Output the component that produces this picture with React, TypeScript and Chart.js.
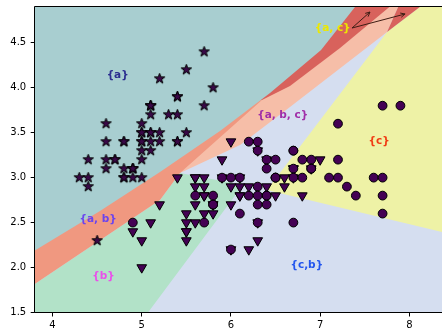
import React, { useEffect, useRef } from 'react';
import { Chart, registerables } from 'chart.js';
Chart.register(...registerables);

// axis ranges and ticks
const X_MIN = 3.8;
const X_MAX = 8.366;
const Y_MIN = 1.5;
const Y_MAX = 4.9;
const xTicks = [4, 5, 6, 7, 8];
const yTicks = [1.5, 2.0, 2.5, 3.0, 3.5, 4.0, 4.5];

// iris sepal length / width
const setosaX = [5.1,4.9,4.7,4.6,5.0,5.4,4.6,5.0,4.4,4.9,5.4,4.8,4.8,4.3,5.8,5.7,5.4,5.1,5.7,5.1,5.4,5.1,4.6,5.1,4.8,5.0,5.0,5.2,5.2,4.7,4.8,5.4,5.2,5.5,4.9,5.0,5.5,4.9,4.4,5.1,5.0,4.5,4.4,5.0,5.1,4.8,5.1,4.6,5.3,5.0];
const setosaY = [3.5,3.0,3.2,3.1,3.6,3.9,3.4,3.4,2.9,3.1,3.7,3.4,3.0,3.0,4.0,4.4,3.9,3.5,3.8,3.8,3.4,3.7,3.6,3.3,3.4,3.0,3.4,3.5,3.4,3.2,3.1,3.4,4.1,4.2,3.1,3.2,3.5,3.1,3.0,3.4,3.5,2.3,3.2,3.5,3.8,3.0,3.8,3.2,3.7,3.3];
const versicolorX = [7.0,6.4,6.9,5.5,6.5,5.7,6.3,4.9,6.6,5.2,5.0,5.9,6.0,6.1,5.6,6.7,5.6,5.8,6.2,5.6,5.9,6.1,6.3,6.1,6.4,6.6,6.8,6.7,6.0,5.7,5.5,5.5,5.8,6.0,5.4,6.0,6.7,6.3,5.6,5.5,5.5,6.1,5.8,5.0,5.6,5.7,5.7,6.2,5.1,5.7];
const versicolorY = [3.2,3.2,3.1,2.3,2.8,2.8,3.3,2.4,2.9,2.7,2.0,3.0,2.2,2.9,2.9,3.1,3.0,2.7,2.2,2.5,3.2,2.8,2.5,2.8,2.9,3.0,2.8,3.0,2.9,2.6,2.4,2.4,2.7,2.7,3.0,3.4,3.1,2.3,3.0,2.5,2.6,3.0,2.6,2.3,2.7,3.0,2.9,2.9,2.5,2.8];
const virginicaX = [6.3,5.8,7.1,6.3,6.5,7.6,4.9,7.3,6.7,7.2,6.5,6.4,6.8,5.7,5.8,6.4,6.5,7.7,7.7,6.0,6.9,5.6,7.7,6.3,6.7,7.2,6.2,6.1,6.4,7.2,7.4,7.9,6.4,6.3,6.1,7.7,6.3,6.4,6.0,6.9,6.7,6.9,5.8,6.8,6.7,6.7,6.3,6.5,6.2,5.9];
const virginicaY = [3.3,2.7,3.0,2.9,3.0,3.0,2.5,2.9,2.5,3.6,3.2,2.7,3.0,2.5,2.8,3.2,3.0,3.8,2.6,2.2,3.2,2.8,2.8,2.7,3.3,3.2,2.8,3.0,2.8,3.0,2.8,3.8,2.8,2.8,2.6,3.0,3.4,3.1,3.0,3.1,3.1,3.1,2.7,3.2,3.3,3.0,2.5,3.0,3.4,3.0];

// prediction-set regions (polygon vertices in data units)
const regionCB = [[3.7,1.4],[8.5,1.4],[8.5,5.0],[3.7,5.0]];
const regionC = [[6.404,2.862],[7.75,4.62],[8.252,5.0],[8.5,5.0],[8.5,2.363]];
const regionB = [[3.7,1.4],[4.995,1.4],[6.135,2.918],[5.429,3.051],[5.205,2.751],[3.7,1.75]];
const regionABC = [[5.0,3.5],[5.429,3.051],[6.102,3.363],[6.662,3.785],[7.75,4.62],[7.92,5.0],[5.0,5.0]];
const regionAB = [[3.7,1.75],[5.205,2.751],[5.429,3.051],[6.348,3.863],[6.35,5.0],[3.7,5.0]];
const regionAC = [[6.2,3.86],[6.348,3.863],[6.662,4.019],[7.223,4.442],[7.9,5.0],[6.2,5.0]];
const regionAC2 = [[7.75,4.62],[7.92,5.0],[8.252,5.0]];
const regionA = [[3.7,2.13],[4.532,2.629],[5.205,3.062],[5.877,3.518],[6.438,3.941],[7.01,4.419],[7.472,5.0],[3.7,5.0]];

// text labels
const labelTexts = ['{a}', '{a, b}', '{b}', '{c,b}', '{c}', '{a, b, c}', '{a, c}'];
const labelX = [4.73, 4.51, 4.57, 6.85, 7.66, 6.58, 7.14];
const labelY = [4.14, 2.54, 1.9, 2.02, 3.41, 3.69, 4.665];
const arrowTail = [7.357, 4.664];
const arrowHeadsX = [7.559, 7.952];
const arrowHeadsY = [4.842, 4.82];

const labelColors = ['#2b2e8f', '#6b44ee', '#ea50ea', '#2255ee', '#f03c14', '#a02ea8', '#ece800'];

function makeStar(R: number, r: number, fill: string, stroke: string) {
  const size = Math.ceil(R * 2 + 4);
  const c = document.createElement('canvas');
  c.width = size; c.height = size;
  const g = c.getContext('2d')!;
  const cx = size / 2, cy = size / 2;
  g.beginPath();
  for (let i = 0; i < 10; i++) {
    const rad = i % 2 === 0 ? R : r;
    const a = -Math.PI / 2 + (i * Math.PI) / 5;
    g.lineTo(cx + rad * Math.cos(a), cy + rad * Math.sin(a));
  }
  g.closePath();
  g.fillStyle = fill; g.fill();
  g.lineWidth = 1; g.strokeStyle = stroke; g.stroke();
  return c;
}

const toPts = (xs: number[], ys: number[]) => xs.map((x, i) => ({ x, y: ys[i] }));
const polyPts = (p: number[][]) => p.map(([x, y]) => ({ x, y }));

const overlay = {
  id: 'overlay',
  afterDatasetsDraw(chart: any) {
    const { ctx, chartArea, scales } = chart;
    const xs = scales.x, ys = scales.y;
    ctx.save();
    // arrows
    ctx.strokeStyle = '#3e1d14';
    ctx.lineWidth = 1;
    const tx = xs.getPixelForValue(arrowTail[0]);
    const ty = ys.getPixelForValue(arrowTail[1]);
    arrowHeadsX.forEach((hxv, i) => {
      const hx = xs.getPixelForValue(hxv);
      const hy = ys.getPixelForValue(arrowHeadsY[i]);
      const ang = Math.atan2(hy - ty, hx - tx);
      ctx.beginPath();
      ctx.moveTo(tx, ty);
      ctx.lineTo(hx, hy);
      const hl = 5, spread = 0.45;
      ctx.moveTo(hx - hl * Math.cos(ang - spread), hy - hl * Math.sin(ang - spread));
      ctx.lineTo(hx, hy);
      ctx.lineTo(hx - hl * Math.cos(ang + spread), hy - hl * Math.sin(ang + spread));
      ctx.stroke();
    });
    // labels
    ctx.font = 'bold 10.5px "DejaVu Sans"';
    ctx.textAlign = 'center';
    ctx.textBaseline = 'middle';
    labelTexts.forEach((t, i) => {
      ctx.fillStyle = labelColors[i];
      ctx.fillText(t, xs.getPixelForValue(labelX[i]), ys.getPixelForValue(labelY[i]));
    });
    // frame
    ctx.strokeStyle = '#000';
    ctx.lineWidth = 1;
    const l = Math.round(chartArea.left) - 0.5;
    const t = Math.round(chartArea.top) - 0.5;
    const b = Math.round(chartArea.bottom) - 0.5;
    const r = chartArea.right + 2;
    ctx.beginPath();
    ctx.moveTo(r, t); ctx.lineTo(l, t); ctx.lineTo(l, b); ctx.lineTo(r, b);
    ctx.stroke();
    ctx.restore();
  },
};

export default function App() {
  const ref = useRef<HTMLCanvasElement>(null);
  useEffect(() => {
    if (!ref.current) return;
    const star = makeStar(5.5, 2.2, '#3a0848', '#000');
    const poly = (p: number[][], color: string, order: number) => ({
      type: 'line' as const,
      data: polyPts(p),
      backgroundColor: color,
      borderColor: 'rgba(0,0,0,0)',
      borderWidth: 0,
      pointRadius: 0,
      pointHoverRadius: 0,
      fill: 'shape',
      tension: 0,
      order,
    });
    const chart = new Chart(ref.current, {
      type: 'scatter',
      data: {
        datasets: [
          { type: 'scatter', data: toPts(virginicaX, virginicaY), pointStyle: 'circle', pointRadius: 4.4, borderWidth: 1, backgroundColor: '#440154', borderColor: '#000', order: 0 },
          { type: 'scatter', data: toPts(versicolorX, versicolorY), pointStyle: 'triangle', rotation: 180, pointRadius: 5.6, borderWidth: 1, backgroundColor: '#440154', borderColor: '#000', order: 1 },
          { type: 'scatter', data: toPts(setosaX, setosaY), pointStyle: star as any, pointRadius: 5, backgroundColor: '#440154', borderColor: '#000', order: 2 },
          poly(regionA, '#a8ced0', 3),
          poly(regionAC2, '#d8625c', 4),
          poly(regionAC, '#d8625c', 5),
          poly(regionAB, '#f09880', 6),
          poly(regionABC, '#f6bea8', 7),
          poly(regionB, '#b2e2c8', 8),
          poly(regionC, '#eef2a6', 9),
          poly(regionCB, '#d5def0', 10),
        ] as any,
      },
      options: {
        responsive: false,
        animation: false,
        devicePixelRatio: 1,
        events: [],
        layout: { autoPadding: false, padding: { top: 6.8, left: 0, right: 0, bottom: 0 } },
        plugins: { legend: { display: false }, tooltip: { enabled: false } },
        font: { family: '"DejaVu Sans"', size: 10 },
        scales: {
          x: {
            type: 'linear',
            min: X_MIN,
            max: X_MAX,
            afterBuildTicks: (s: any) => { s.ticks = xTicks.map((v) => ({ value: v })); },
            afterFit: (s: any) => { s.height = 18.5; s.paddingLeft = 0; s.paddingRight = 0; },
            ticks: { callback: (v: any) => String(v), color: '#000', padding: 3, maxRotation: 0, autoSkip: false, font: { family: '"DejaVu Sans"', size: 10 } },
            grid: { drawOnChartArea: false, drawTicks: true, tickLength: 4, color: '#000' },
            border: { display: false },
          },
          y: {
            type: 'linear',
            min: Y_MIN,
            max: Y_MAX,
            afterBuildTicks: (s: any) => { s.ticks = yTicks.map((v) => ({ value: v })); },
            afterFit: (s: any) => { s.width = 34.7; s.paddingTop = 0; s.paddingBottom = 0; },
            ticks: { callback: (v: any) => Number(v).toFixed(1), color: '#000', padding: 4.5, autoSkip: false, font: { family: '"DejaVu Sans"', size: 10 } },
            grid: { drawOnChartArea: false, drawTicks: true, tickLength: 4, color: '#000' },
            border: { display: false },
          },
        },
      } as any,
      plugins: [overlay],
    });
    return () => chart.destroy();
  }, []);
  return (
    <div style={{ position: 'absolute', left: 0, top: 0, width: 442, height: 331 }}>
      <canvas ref={ref} width={442} height={331} style={{ display: 'block' }} />
    </div>
  );
}
